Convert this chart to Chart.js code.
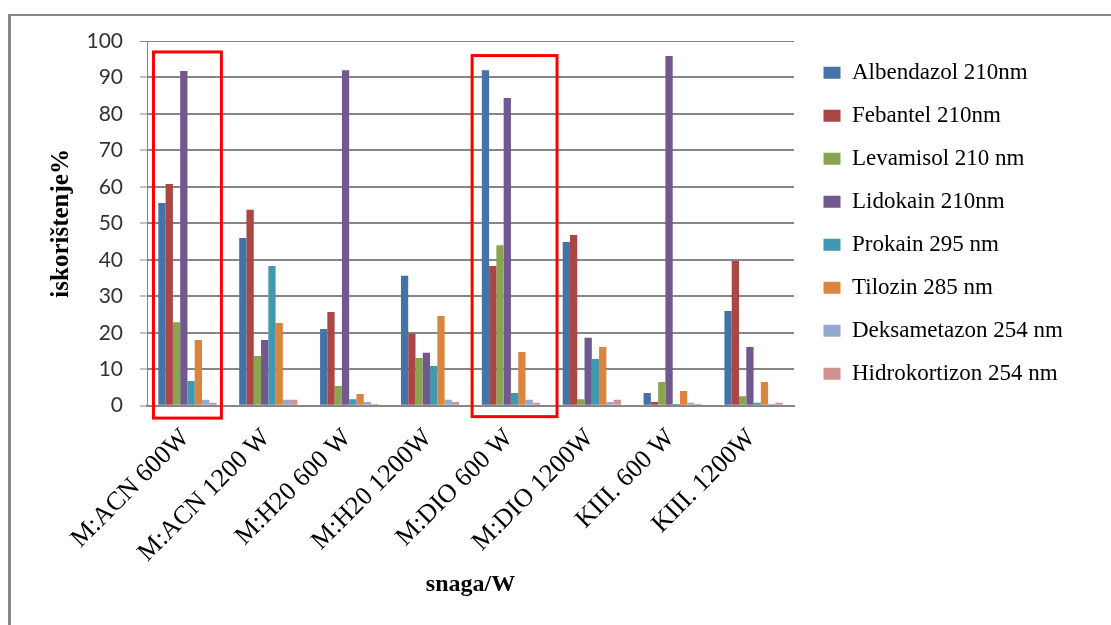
<!DOCTYPE html>
<html>
<head>
<meta charset="utf-8">
<script src="https://cdn.jsdelivr.net/npm/chart.js@4.4.1/dist/chart.umd.min.js"></script>
<style>
  html, body { margin: 0; padding: 0; background: #ffffff; }
  body { width: 1111px; height: 625px; position: relative; overflow: hidden; }
  #frameTop { position: absolute; left: 8px; top: 14px; width: 1103px; height: 2px; background: #878787; }
  #frameLeft { position: absolute; left: 8px; top: 14px; width: 3px; height: 611px; background: #878787; }
  canvas { position: absolute; left: 0; top: 0; }
</style>
</head>
<body>
<div id="frameTop"></div>
<div id="frameLeft"></div>
<canvas id="c" width="1111" height="625"></canvas>
<script>
const categories = ["M:ACN 600W", "M:ACN 1200 W", "M:H20 600 W", "M:H20 1200W", "M:DIO 600 W", "M:DIO 1200W", "KIII. 600 W", "KIII. 1200W"];
const seriesNames = ["Albendazol 210nm", "Febantel 210nm", "Levamisol 210 nm", "Lidokain 210nm", "Prokain 295 nm", "Tilozin 285 nm", "Deksametazon 254 nm", "Hidrokortizon 254 nm"];
const albendazol    = [55.6, 46.0, 21.0, 35.6, 92.0, 44.9, 3.5, 26.0];
const febantel      = [60.8, 53.7, 25.7, 19.7, 38.3, 46.8, 1.0, 39.7];
const levamisol     = [22.9, 13.6, 5.4, 13.1, 44.0, 1.8, 6.5, 2.6];
const lidokain      = [91.8, 18.0, 92.0, 14.5, 84.4, 18.6, 95.9, 16.1];
const prokain       = [6.8, 38.3, 1.8, 10.9, 3.5, 12.8, 0.5, 0.8];
const tilozin       = [18.0, 22.7, 3.2, 24.6, 14.7, 16.1, 4.0, 6.5];
const deksametazon  = [1.6, 1.6, 1.0, 1.6, 1.6, 1.0, 0.8, 0.5];
const hidrokortizon = [0.8, 1.6, 0.5, 1.0, 0.8, 1.6, 0.5, 0.8];
const yTicks = [0, 10, 20, 30, 40, 50, 60, 70, 80, 90, 100];
const seriesColors = ["#4572A7", "#AA4643", "#89A54E", "#71588F", "#4198AF", "#DB843D", "#93A9CF", "#D19392"];
// highlighted groups (category index, extent in category widths, value range)
const highlightCats = [0, 4];
const highlightFrom = [-0.42, -0.48];
const highlightTo = [0.42, 0.57];
const highlightTop = [97, 96];
const highlightBottom = [-3.4, -3.0];

const seriesValues = [albendazol, febantel, levamisol, lidokain, prokain, tilozin, deksametazon, hidrokortizon];

const LEGEND_WIDTH = 275.5;

const legendSizePlugin = {
  id: 'legendSize',
  beforeLayout(chart) {
    const lg = chart.legend;
    if (lg && !lg._sizePatched) {
      const origFit = lg.fit;
      lg.fit = function () {
        origFit.call(this);
        this.width = LEGEND_WIDTH;
      };
      lg._sizePatched = true;
    }
  }
};

const highlightPlugin = {
  id: 'highlight',
  afterDraw(chart) {
    const x = chart.scales.x, y = chart.scales.y;
    const ctx = chart.ctx;
    const cw = x.getPixelForValue(1) - x.getPixelForValue(0);
    ctx.save();
    ctx.strokeStyle = '#FF0000';
    ctx.lineWidth = 3;
    highlightCats.forEach((c, i) => {
      const cx = x.getPixelForValue(c);
      const l = cx + highlightFrom[i] * cw, r = cx + highlightTo[i] * cw;
      const t = y.getPixelForValue(highlightTop[i]), b = y.getPixelForValue(highlightBottom[i]);
      ctx.strokeRect(l, t, r - l, b - t);
    });
    ctx.restore();
  }
};

new Chart(document.getElementById('c'), {
  type: 'bar',
  data: {
    labels: categories,
    datasets: seriesValues.map((vals, i) => ({
      label: seriesNames[i],
      data: vals,
      backgroundColor: seriesColors[i],
      borderWidth: 0,
      barPercentage: 1,
      categoryPercentage: 0.72
    }))
  },
  options: {
    responsive: false,
    animation: false,
    layout: { padding: { left: 40, top: 41, right: 32, bottom: 0 } },
    plugins: {
      tooltip: { enabled: false },
      legend: {
        position: 'right',
        fullSize: false,
        labels: {
          boxWidth: 17,
          boxHeight: 12,
          padding: 20,
          color: '#000',
          font: { family: '"Liberation Serif", "Times New Roman", serif', size: 23 }
        }
      }
    },
    scales: {
      x: {
        grid: { display: false },
        border: { display: true, color: '#868686', width: 2 },
        ticks: {
          autoSkip: false,
          minRotation: 45,
          maxRotation: 45,
          padding: 9,
          labelOffset: -2,
          color: '#000',
          font: { family: '"Liberation Serif", "Times New Roman", serif', size: 26 }
        },
        title: {
          display: true,
          text: 'snaga/W',
          color: '#000',
          padding: { top: 4, bottom: 26 },
          font: { family: '"Liberation Serif", "Times New Roman", serif', size: 24, weight: 'bold' }
        },
        afterFit(s) { s.height = 219.3; }
      },
      y: {
        min: 0,
        max: 100,
        afterBuildTicks(s) { s.ticks = yTicks.map(v => ({ value: v })); },
        grid: {
          color: '#868686',
          lineWidth: (c) => (c.tick && c.tick.value === 100 ? 1 : 2),
          tickLength: 7,
          tickWidth: 1,
          tickColor: '#868686'
        },
        border: { display: true, color: '#868686', width: 1 },
        ticks: {
          padding: 17,
          color: '#333',
          font: { family: 'Lato, "Liberation Sans", sans-serif', size: 21 }
        },
        title: {
          display: true,
          text: 'iskorištenje%',
          color: '#000',
          padding: { top: 7, bottom: 0 },
          font: { family: '"Liberation Serif", "Times New Roman", serif', size: 25, weight: 'bold' }
        },
        afterFit(s) { s.width = 107; }
      },
      yPad: {
        type: 'linear',
        position: 'right',
        display: true,
        grid: { display: false },
        border: { display: false },
        ticks: { display: false },
        afterFit(s) { s.width = 9.5; }
      }
    }
  },
  plugins: [legendSizePlugin, highlightPlugin]
});
</script>
</body>
</html>
